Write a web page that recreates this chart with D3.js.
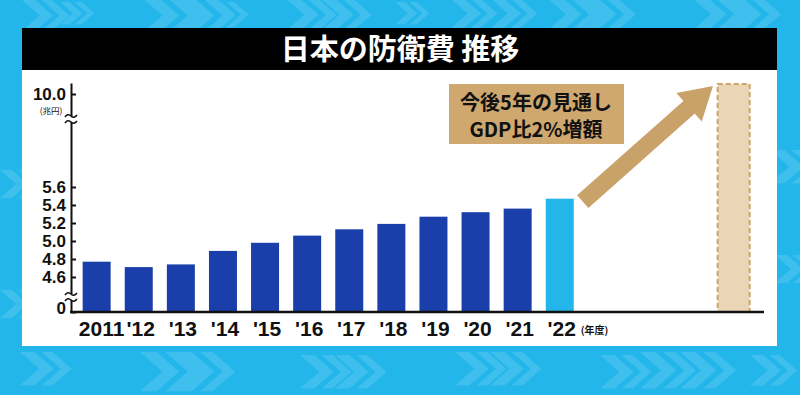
<!DOCTYPE html>
<html><head><meta charset="utf-8">
<script src="https://cdn.jsdelivr.net/npm/d3@7/dist/d3.min.js"></script>
<style>html,body{margin:0;padding:0;background:#fff;}svg{display:block;}</style>
</head><body><svg id="c" width="800" height="419"></svg>
<script>
const title = "日本の防衛費 推移";
const years = ["2011","'12","'13","'14","'15","'16","'17","'18","'19","'20","'21","'22"];
const values = [4.77, 4.71, 4.74, 4.89, 4.98, 5.06, 5.13, 5.19, 5.27, 5.32, 5.36, 5.47];
const futureSlots = ["'23","'24","'25","'26"];
const futureValue = 10.55;
const yTicks = [0, 4.6, 4.8, 5.0, 5.2, 5.4, 5.6, 10.0];
const yUnit = "(兆円)";
const xUnit = "(年度)";
const noteLines = ["今後5年の見通し", "GDP比2%増額"];

const svg = d3.select("#c");
const FONT = "'Liberation Sans', Arial, sans-serif";
const JFONT = "'Noto Sans CJK JP', 'Noto Sans', sans-serif";

// background
svg.append("rect").attr("x",0).attr("y",0).attr("width",800).attr("height",395).attr("fill","#22b6ea");
// decorative chevrons
const chev = [[22,0,1.1],[60,2,0.8],[140,-4,1.4],[175,-4,1.4],[210,2,0.9],[285,-2,1.2],[320,-2,1.2],[395,2,0.8],[450,-2,1.1],[490,-2,1.1],[545,-4,1.3],[580,-4,1.3],[690,-4,1.3],[725,-4,1.3],[770,150,1.2],[775,255,1],[0,170,1],[0,290,1],[20,352,1.2],[140,352,1.4],[175,352,1.4],[300,355,1.2],[335,355,1.2],[455,352,1.2],[490,352,1.2],[600,355,1.2],[640,352,1.3],[680,352,1.3],[750,355,1.1]];
const cg = svg.append("g").attr("fill","#5cc8f0").attr("opacity",0.5);
chev.forEach(([cx,cy,s])=>{
  cg.append("path").attr("d",`M${cx},${cy} l${12*s},0 l${16*s},${14*s} l${-16*s},${14*s} l${-12*s},0 l${16*s},${-14*s} z`);
  cg.append("path").attr("d",`M${cx+18*s},${cy} l${9*s},0 l${16*s},${14*s} l${-16*s},${14*s} l${-9*s},0 l${16*s},${-14*s} z`);
});

// panel
svg.append("rect").attr("x",22).attr("y",28).attr("width",755).attr("height",42).attr("fill","#000");
svg.append("rect").attr("x",22).attr("y",70).attr("width",755).attr("height",276).attr("fill","#fff");
svg.append("text").attr("x",400).attr("y",60).attr("text-anchor","middle")
  .attr("font-family",JFONT).attr("font-weight","bold").attr("font-size",29).attr("fill","#fff").text(title);

// scales
const baseY = 312;
const y = d3.scaleLinear().domain([0, 4.4, 5.8, 10.0, 10.6]).range([baseY, 295, 169, 94, 83]);
const x = d3.scaleBand().domain(years.concat(futureSlots)).range([75.5, 75.5 + 42.1*16.005])
  .paddingInner(0.335).paddingOuter(0.17);

// bars
svg.append("g").selectAll("rect").data(years).join("rect")
  .attr("x", d=>x(d)).attr("width", x.bandwidth())
  .attr("y", (d,i)=>y(values[i])).attr("height",(d,i)=>baseY - y(values[i]))
  .attr("fill",(d,i)=> i===years.length-1 ? "#22b6ea" : "#1a3eaa");

// future bar
const fx = x(futureSlots[futureSlots.length-1]) + 3.5;
svg.append("rect").attr("x",fx).attr("width",x.bandwidth()+4)
  .attr("y",y(futureValue)).attr("height",baseY - y(futureValue))
  .attr("fill","#ead6b4").attr("stroke","#c9a46c").attr("stroke-width",2).attr("stroke-dasharray","5,3");

// baseline
svg.append("line").attr("x1",70).attr("x2",764).attr("y1",baseY).attr("y2",baseY)
  .attr("stroke","#111").attr("stroke-width",2.5);

// y axis
const yAxis = d3.axisLeft(y).tickValues(yTicks).tickSizeInner(-5).tickSizeOuter(0).tickPadding(5)
  .tickFormat(d=> d===0 ? "0" : d3.format(".1f")(d));
const ya = svg.append("g").attr("transform","translate(71,0)").call(yAxis);
ya.select(".domain").attr("stroke","#111").attr("stroke-width",2);
ya.selectAll(".tick line").attr("stroke","#111").attr("stroke-width",2);
ya.selectAll(".tick text").attr("font-family",FONT).attr("font-weight","bold").attr("font-size",17).attr("fill","#111")
  .attr("dy", d=> d===0 ? "0.1em" : "0.34em");
svg.append("text").attr("x",51).attr("y",114).attr("text-anchor","middle").attr("font-family",JFONT)
  .attr("font-size",8.5).attr("fill","#111").text(yUnit);

// axis breaks
function brk(yc){
  svg.append("rect").attr("x",64).attr("y",yc-3).attr("width",14).attr("height",6).attr("fill","#fff");
  [-3,3].forEach(o=>{
    svg.append("path").attr("d",`M65,${yc+o+1} q3,-4 6,-1 t6,-1`).attr("fill","none").attr("stroke","#111").attr("stroke-width",1.6);
  });
}
brk(119); brk(297);

// x labels
svg.append("g").selectAll("text").data(years).join("text")
  .attr("x", d=>x(d)+x.bandwidth()/2 + (d==="2011"?5:2)).attr("y",336).attr("text-anchor","middle")
  .attr("font-family",FONT).attr("font-weight","bold").attr("font-size",21).attr("fill","#111").text(d=>d);
svg.append("text").attr("x",x("'22")+x.bandwidth()/2+21).attr("y",334).attr("font-family",JFONT)
  .attr("font-size",10).attr("font-weight","bold").attr("fill","#111").text(xUnit);

// note box
svg.append("rect").attr("x",449).attr("y",84).attr("width",175).attr("height",60).attr("fill","#cfa86f");
noteLines.forEach((t,i)=>{
  svg.append("text").attr("x",536).attr("y",110+i*27).attr("text-anchor","middle").attr("font-family",JFONT)
    .attr("font-weight","bold").attr("font-size",20).attr("fill","#111").text(t);
});

// arrow
const tail = [x("'22")+x.bandwidth()+9, y(values[values.length-1])+3];
const tip = [713, 86];
const dx = tip[0]-tail[0], dy = tip[1]-tail[1], L = Math.hypot(dx,dy);
const ux = dx/L, uy = dy/L, nx = -uy, ny = ux;
const hw = 8.5, hh = 19, hl = 32;
const bx = tip[0]-ux*hl, by = tip[1]-uy*hl;
const pts = [
  [tail[0]+nx*hw, tail[1]+ny*hw],[bx+nx*hw, by+ny*hw],[bx+nx*hh, by+ny*hh],tip,
  [bx-nx*hh, by-ny*hh],[bx-nx*hw, by-ny*hw],[tail[0]-nx*hw, tail[1]-ny*hw]];
svg.append("path").attr("d", d3.line()(pts)+"Z").attr("fill","#c9a26a");
</script></body></html>
